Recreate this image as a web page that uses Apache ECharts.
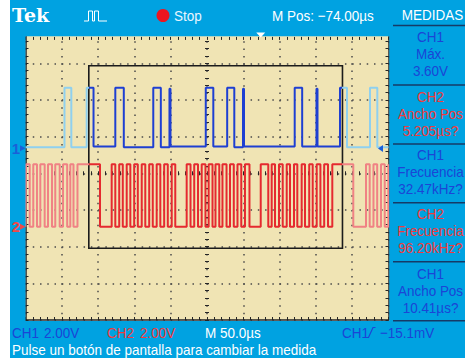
<!DOCTYPE html>
<html><head><meta charset="utf-8">
<script src="https://cdn.jsdelivr.net/npm/echarts@6/dist/echarts.min.js"></script>
<style>html,body{margin:0;padding:0;background:#fff;}#c{width:465px;height:358px;}</style>
</head><body><div id="c"></div>
<script>
// ---- data (time in µs, 50 µs/div; volts, 2 V/div) ----
const ch1Time = [0, 53.7, 63.1, 84.3, 93.7, 123.7, 135.4, 176.0, 186.4, 198.3, 199.7, 248.3, 258.7, 277.8, 287.6, 299.6, 301.0, 370.8, 381.1, 400.8, 402.2, 433.2, 442.8, 474.5, 484.6, 500];
const ch1Volt = [0.05, 3.3, 0.05, 3.3, 0.1, 3.3, 0.05, 3.3, 0.05, 3.25, 0.1, 3.3, 0.1, 3.3, 0.05, 3.25, 0.1, 3.3, 0.1, 3.25, 0.1, 3.3, 0.05, 3.3, 0.05, 0.05];
const ch2Time = [0, 0.7, 5.8, 10.7, 15.8, 20.4, 26.4, 31.0, 36.5, 41.0, 47.1, 51.7, 57.4, 61.7, 66.1, 71.6, 102.6,
  118.7, 123.7, 129.1, 134.0, 139.4, 144.4, 149.7, 154.7, 160.1, 165.0, 170.4, 175.3, 180.7, 185.7, 191.0, 196.0, 201.4, 206.3,
  222.0, 227.3, 232.4, 237.6, 242.7, 247.9, 252.3, 257.6, 261.7, 266.9, 271.3, 276.9, 281.7, 286.9, 292.0, 297.2, 302.3, 308.5,
  324.0, 334.4, 339.1, 343.7, 349.2, 354.3, 359.8, 364.3, 369.8, 374.4, 380.4, 385.0, 390.8, 395.6, 401.1, 406.2, 411.4, 416.7, 422.6, 451.5,
  469.0, 474.1, 479.3, 484.4, 489.7, 494.8, 499.7, 500];
const ch2Volt = [0, 3.4, 0, 3.4, 0, 3.4, 0, 3.4, 0, 3.4, 0, 3.4, 0, 3.4, 0, 3.4, 0,
  3.4, 0, 3.4, 0, 3.4, 0, 3.4, 0, 3.4, 0, 3.4, 0, 3.4, 0, 3.4, 0, 3.4, 0,
  3.4, 0, 3.4, 0, 3.4, 0, 3.4, 0, 3.4, 0, 3.4, 0, 3.4, 0, 3.4, 0, 3.4, 0,
  3.4, 0, 3.4, 0, 3.4, 0, 3.4, 0, 3.4, 0, 3.4, 0, 3.4, 0, 3.4, 0, 3.4, 0, 3.4, 0,
  3.4, 0, 3.4, 0, 3.4, 0, 3.4, 3.4];
const zoomBoxTime = [87.2, 436.6];      // µs
const zoomBoxDiv = [1.955, 6.934];      // divisions from bottom
const triggerTime = 324;                // µs
const triggerLevel = -0.0151;           // V on CH1
const measures = [
  ['CH1', 'Máx.', '3.60V', 'ch1'],
  ['CH2', 'Ancho Pos', '5.205µs?', 'ch2'],
  ['CH1', 'Frecuencia', '32.47kHz?', 'ch1'],
  ['CH2', 'Frecuencia', '96.20kHz?', 'ch2'],
  ['CH1', 'Ancho Pos', '10.41µs?', 'ch1']
];

const BLUE_BG = '#00a2e1', BEIGE = '#f0e4b4';
const C1_LIGHT = '#8fd0ef', C1_DARK = '#1e3fd2', C2_LIGHT = '#f08284', C2_DARK = '#e52a2f';
const TXT_C1 = '#1b45d6', TXT_C2 = '#f23a3a';
const FONT = "'Liberation Sans','DejaVu Sans',sans-serif";
const SX = 0.9;
const GL = 25.5, GT = 26.6, GW = 363, GH = 293.4;

const ch1Data = ch1Time.map((t, i) => [t, ch1Volt[i]]);
const ch2Data = ch2Time.map((t, i) => [t, ch2Volt[i]]);

const tickCol = '#262626';
function edgeAxisX(pos, offset, len, showLine) {
  return { type: 'value', min: 0, max: 500, interval: 50, position: pos, offset: offset,
    axisLine: { show: !!showLine, onZero: false, lineStyle: { color: tickCol, width: 1.5 } },
    axisTick: { show: true, inside: true, length: len, lineStyle: { color: tickCol, width: 1 } },
    minorTick: { show: true, splitNumber: 5, length: len, lineStyle: { color: tickCol, width: 1 } },
    axisLabel: { show: false }, splitLine: { show: false } };
}
function edgeAxisY(pos, offset, len, showLine) {
  return { type: 'value', min: 0, max: 8, interval: 1, position: pos, offset: offset,
    axisLine: { show: !!showLine, onZero: false, lineStyle: { color: tickCol, width: 1.5 } },
    axisTick: { show: true, inside: true, length: len, lineStyle: { color: tickCol, width: 1 } },
    minorTick: { show: true, splitNumber: 5, length: len, lineStyle: { color: tickCol, width: 1 } },
    axisLabel: { show: false }, splitLine: { show: false } };
}
const xMain = edgeAxisX('bottom', 0, 3, true);
xMain.splitLine = { show: true, lineStyle: { color: '#4a4a4a', width: 1.5, type: [1.5, 5.835] } };
const yMain = edgeAxisY('left', 0, 3, true);
yMain.splitLine = { show: true, lineStyle: { color: '#4a4a4a', width: 1.5, type: [1.5, 5.76] } };

const chart = echarts.init(document.getElementById('c'), null, { renderer: 'svg', width: 465, height: 358 });
const option = {
  animation: false,
  backgroundColor: '#ffffff',
  grid: { left: GL, top: GT, width: GW, height: GH, show: true, backgroundColor: BEIGE, borderWidth: 0 },
  xAxis: [xMain, edgeAxisX('top', -10.3, 3, false), edgeAxisX('bottom', -144.7, 4, false)],
  yAxis: [yMain, edgeAxisY('right', 0, 3, true), edgeAxisY('left', -179.5, 4, false),
    { type: 'value', min: -9.364, max: 6.636, show: false, axisLine: { onZero: false }, splitLine: { show: false } },
    { type: 'value', min: -5.088, max: 10.912, show: false, axisLine: { onZero: false }, splitLine: { show: false } }],
  visualMap: [
    { type: 'piecewise', show: false, seriesIndex: 0, dimension: 0,
      pieces: [{ lt: zoomBoxTime[0], color: C1_LIGHT }, { gte: zoomBoxTime[0], lte: zoomBoxTime[1], color: C1_DARK }, { gt: zoomBoxTime[1], color: C1_LIGHT }] },
    { type: 'piecewise', show: false, seriesIndex: 1, dimension: 0,
      pieces: [{ lt: zoomBoxTime[0], color: C2_LIGHT }, { gte: zoomBoxTime[0], lte: zoomBoxTime[1], color: C2_DARK }, { gt: zoomBoxTime[1], color: C2_LIGHT }] }
  ],
  series: [
    { name: 'CH1', type: 'line', xAxisIndex: 0, yAxisIndex: 3, step: 'end', showSymbol: false, symbol: 'none',
      data: ch1Data, lineStyle: { width: 2 }, z: 3 },
    { name: 'CH2', type: 'line', xAxisIndex: 0, yAxisIndex: 4, step: 'end', showSymbol: false, symbol: 'none',
      data: ch2Data, lineStyle: { width: 2 }, z: 3 }
  ]
};
chart.setOption(option);

// ---- screen furniture (positions from the library's own scales) ----
const px = (t, d) => chart.convertToPixel({ xAxisIndex: 0, yAxisIndex: 0 }, [t, d]);
const b0 = px(zoomBoxTime[0], zoomBoxDiv[1]);
const b1 = px(zoomBoxTime[1], zoomBoxDiv[0]);
const g1 = chart.convertToPixel({ xAxisIndex: 0, yAxisIndex: 3 }, [0, 0])[1];
const g2 = chart.convertToPixel({ xAxisIndex: 0, yAxisIndex: 4 }, [0, 0])[1];
const trigY = chart.convertToPixel({ xAxisIndex: 0, yAxisIndex: 3 }, [0, triggerLevel])[1];
const trigX = px(triggerTime, 0)[0];
const right = GL + GW, bottom = GT + GH;

const g = [];
function txt(text, x, y, col, size, align, weight, sx) {
  g.push({ type: 'text', z: 101, x: x, y: y, scaleX: sx || SX,
    style: { text: text, x: 0, y: 0, fill: col, font: (weight || 'normal') + ' ' + size + 'px ' + FONT,
      textAlign: align || 'left', textVerticalAlign: 'middle' } });
}
g.push({ type: 'rect', z: 1, shape: { x: b0[0], y: b0[1], width: b1[0] - b0[0], height: b1[1] - b0[1] },
  style: { fill: 'none', stroke: '#1b1b1b', lineWidth: 1.6 } });
// blue frame
g.push({ type: 'rect', z: 100, shape: { x: 10, y: 0, width: 455, height: 36.3 }, style: { fill: BLUE_BG } });
g.push({ type: 'rect', z: 100, shape: { x: 10, y: 36, width: GL - 10, height: bottom - 36 + 1 }, style: { fill: BLUE_BG } });
g.push({ type: 'rect', z: 100, shape: { x: right + 0.8, y: 36, width: 465 - right, height: bottom - 36 + 1 }, style: { fill: BLUE_BG } });
g.push({ type: 'rect', z: 100, shape: { x: 10, y: bottom + 1, width: 455, height: 358 - bottom }, style: { fill: BLUE_BG } });
// header
g.push({ type: 'text', z: 101, style: { text: 'Tek', x: 12, y: 15, fill: '#ffffff', font: "bold 19px 'DejaVu Serif','Liberation Serif',serif", textVerticalAlign: 'middle' } });
g.push({ type: 'polyline', z: 101, shape: { points: [[84, 21], [88.5, 21], [88.5, 11], [92.5, 11], [92.5, 21], [94.5, 21], [94.5, 11], [98.5, 11], [98.5, 21], [107, 21]] },
  style: { stroke: '#ffffff', lineWidth: 1, fill: 'none' } });
g.push({ type: 'circle', z: 101, shape: { cx: 163, cy: 15.5, r: 6.5 }, style: { fill: '#ec1520' } });
txt('Stop', 174, 15.5, '#e8f6ff', 15);
txt('M Pos: \u221274.00\u00b5s', 272, 15.5, '#ffffff', 15);
txt('MEDIDAS', 432.5, 14.5, '#ffffff', 15, 'center');
g.push({ type: 'line', z: 101, shape: { x1: 393, y1: 25.5, x2: 465, y2: 25.5 }, style: { stroke: '#163a66', lineWidth: 1.5 } });
// measurement panel
const rowTop = [36.7, 96.7, 155, 213.3, 273.3];
const sepY = [85, 144, 202.7, 261.7, 320.7];
measures.forEach((m, i) => {
  const col = m[3] === 'ch1' ? TXT_C1 : TXT_C2;
  for (let k = 0; k < 3; k++) txt(m[k], 430.5, rowTop[i] + k * 17, col, 15, 'center');
  g.push({ type: 'line', z: 101, shape: { x1: 393, y1: sepY[i], x2: 465, y2: sepY[i] }, style: { stroke: '#163a66', lineWidth: 1.5 } });
});
// channel ground markers
txt('1', 16, g1, '#1b5fd8', 15, 'center', 'bold', 1);
g.push({ type: 'polygon', z: 101, shape: { points: [[20, g1 - 3], [25.5, g1], [20, g1 + 3]] }, style: { fill: '#1b5fd8' } });
txt('2', 16, g2, '#f04848', 15, 'center', 'bold', 1);
g.push({ type: 'polygon', z: 101, shape: { points: [[20, g2 - 3], [25.5, g2], [20, g2 + 3]] }, style: { fill: '#f04848' } });
// trigger markers
g.push({ type: 'polygon', z: 101, shape: { points: [[right - 5.5, trigY - 3.5], [right - 5.5, trigY + 3.5], [right - 10.5, trigY]] }, style: { fill: '#1b5fd8' } });
g.push({ type: 'polygon', z: 101, shape: { points: [[trigX - 4.5, 32.5], [trigX + 4.5, 32.5], [trigX, 37.5]] }, style: { fill: '#ffffff' } });
// bottom status
const r1 = 332.5, r2 = 349.5;
txt('CH1', 12, r1, TXT_C1, 15); txt('2.00V', 44, r1, TXT_C1, 15);
txt('CH2', 107, r1, TXT_C2, 15); txt('2.00V', 140, r1, TXT_C2, 15);
txt('M 50.0\u00b5s', 205, r1, '#ffffff', 15);
txt('CH1', 342, r1, TXT_C1, 15); txt('\u221215.1mV', 380, r1, TXT_C1, 15);
g.push({ type: 'polyline', z: 101, shape: { points: [[366, 337.5], [368.5, 337.5], [373, 327.5], [375.5, 327.5]] }, style: { stroke: TXT_C1, lineWidth: 1.2, fill: 'none' } });
txt('Pulse un botón de pantalla para cambiar la medida', 12, r2, '#ffffff', 15);

chart.setOption({ graphic: { elements: g } });
</script>
</body></html>
